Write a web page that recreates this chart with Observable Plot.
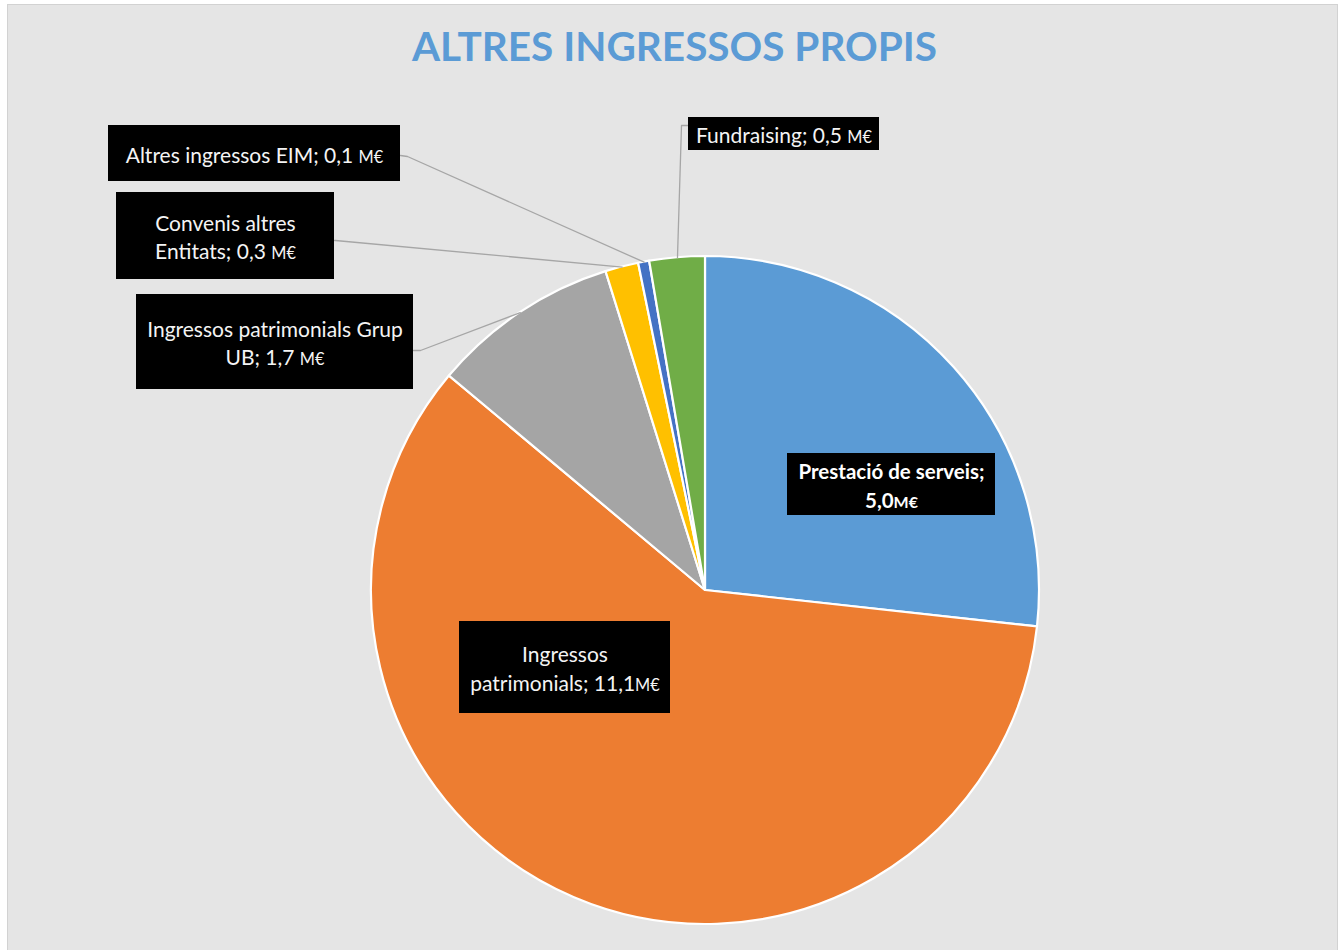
<!DOCTYPE html>
<html><head><meta charset="utf-8">
<script src="https://cdn.jsdelivr.net/npm/d3@7"></script>
<script src="https://cdn.jsdelivr.net/npm/@observablehq/plot@0.6"></script>
<style>
html,body{margin:0;padding:0;background:#fff;}
#wrap{position:absolute;left:0;top:0;width:1339px;height:950px;overflow:hidden;}
#bg{position:absolute;left:7px;top:4px;width:1331px;height:950px;background:#e5e5e5;border:1px solid #d2d2d2;box-sizing:border-box;}
#chart{position:absolute;left:0;top:0;}
</style></head><body>
<div id="wrap"><div id="bg"></div><div id="chart"></div></div>
<script>
// ---- data ----
const title = "ALTRES INGRESSOS PROPIS";
const categories = ["Prestació de serveis", "Ingressos patrimonials", "Ingressos patrimonials Grup UB", "Convenis altres Entitats", "Altres ingressos EIM", "Fundraising"];
const values = [5.0, 11.1, 1.7, 0.3, 0.1, 0.5];
const labelTexts = ["Prestació de serveis;\n5,0M€", "Ingressos\npatrimonials; 11,1M€", "Ingressos patrimonials Grup\nUB; 1,7 M€", "Convenis altres\nEntitats; 0,3 M€", "Altres ingressos EIM; 0,1 M€", "Fundraising; 0,5 M€"];

// ---- styling / layout ----
const colors = ["#5b9bd5", "#ed7d31", "#a5a5a5", "#ffc000", "#4472c4", "#70ad47"];
const W = 1339, H = 950;
const pieGeom = {cx: 705, cy: 590, r: 334};
const titlePos = {x: 674, y: 48};
// label box centre, size, leader start and elbow (null = no leader)
const labelLayout = [
  {cx: 891, cy: 484, w: 208, h: 62, bold: true, lead: null},
  {cx: 564.5, cy: 667, w: 211, h: 92, bold: false, lead: null},
  {cx: 274.5, cy: 341.5, w: 277, h: 95, bold: false, lead: [[413, 350], [420, 350]]},
  {cx: 225, cy: 235.5, w: 218, h: 87, bold: false, lead: [[334, 240], [335, 240]]},
  {cx: 254, cy: 153, w: 292, h: 56, bold: false, lead: [[400, 155], [407, 156]]},
  {cx: 783.5, cy: 133.5, w: 191, h: 33, bold: false, lead: [[688, 125], [681, 125]]}
];
const FONT = "Lato, 'Open Sans', sans-serif";

// ---- build ----
const rows = categories.map((name, i) => ({name, value: values[i], label: labelTexts[i], color: colors[i], ...labelLayout[i]}));
const arcs = d3.pie().sort(null).value(d => d.value)(rows);
// arc midpoints on the rim (data-driven)
arcs.forEach(a => {
  const m = (a.startAngle + a.endAngle) / 2;
  a.data.rimX = pieGeom.cx + pieGeom.r * Math.sin(m);
  a.data.rimY = pieGeom.cy - pieGeom.r * Math.cos(m);
});
const leaderPts = [];
rows.forEach(d => {
  if (!d.lead) return;
  leaderPts.push({k: d.name, x: d.lead[0][0], y: d.lead[0][1]});
  leaderPts.push({k: d.name, x: d.lead[1][0], y: d.lead[1][1]});
  leaderPts.push({k: d.name, x: d.rimX, y: d.rimY});
});

const pieMark = (index, scales) => {
  const cx = scales.x(pieGeom.cx), cy = scales.y(pieGeom.cy);
  const r = Math.abs(scales.x(pieGeom.cx + pieGeom.r) - cx);
  const arc = d3.arc().innerRadius(0).outerRadius(r);
  const g = d3.create("svg:g").attr("transform", `translate(${cx},${cy})`);
  g.selectAll("path").data(arcs).join("path")
    .attr("d", arc).attr("fill", d => d.data.color)
    .attr("stroke", "#ffffff").attr("stroke-width", 2.2).attr("stroke-linejoin", "round");
  return g.node();
};

const normal = rows.filter(d => !d.bold), bold = rows.filter(d => d.bold);
const svg = Plot.plot({
  width: W, height: H, margin: 0,
  x: {domain: [0, W], range: [0, W], axis: null},
  y: {domain: [0, H], range: [0, H], axis: null},
  style: {background: "transparent", overflow: "visible"},
  marks: [
    pieMark,
    Plot.line(leaderPts, {x: "x", y: "y", z: "k", stroke: "#a6a6a6", strokeWidth: 1.3, curve: "linear"}),
    Plot.rect(rows, {x1: d => d.cx - d.w / 2, x2: d => d.cx + d.w / 2, y1: d => d.cy - d.h / 2, y2: d => d.cy + d.h / 2, fill: "#000", inset: 0}),
    Plot.text(normal, {x: "cx", y: "cy", text: "label", fill: "#f4f4f4", fontSize: 21, fontFamily: FONT, lineHeight: 1.34, textAnchor: "middle", lineAnchor: "middle"}),
    Plot.text(bold, {x: "cx", y: "cy", text: "label", fill: "#fff", fontSize: 20.5, fontWeight: "bold", fontFamily: FONT, lineHeight: 1.37, textAnchor: "middle", lineAnchor: "middle"}),
    Plot.text([title], {x: () => titlePos.x, y: () => titlePos.y, text: d => d, fill: "#5b9bd5", fontSize: 40.5, fontWeight: "bold", fontFamily: FONT, textAnchor: "middle", lineAnchor: "middle"})
  ]
});

// render "M€" as small capitals
(function smallCaps(root) {
  const walker = document.createTreeWalker(root, NodeFilter.SHOW_TEXT);
  const nodes = [];
  while (walker.nextNode()) if (walker.currentNode.nodeValue.includes("M€")) nodes.push(walker.currentNode);
  for (const n of nodes) {
    const idx = n.nodeValue.indexOf("M€");
    const before = n.nodeValue.slice(0, idx), after = n.nodeValue.slice(idx + 2);
    const p = n.parentNode;
    const ts = document.createElementNS("http://www.w3.org/2000/svg", "tspan");
    ts.setAttribute("font-size", "0.78em");
    ts.textContent = "M€";
    p.insertBefore(document.createTextNode(before), n);
    p.insertBefore(ts, n);
    if (after) p.insertBefore(document.createTextNode(after), n);
    p.removeChild(n);
  }
})(svg);

document.getElementById("chart").appendChild(svg);
</script>
</body></html>
